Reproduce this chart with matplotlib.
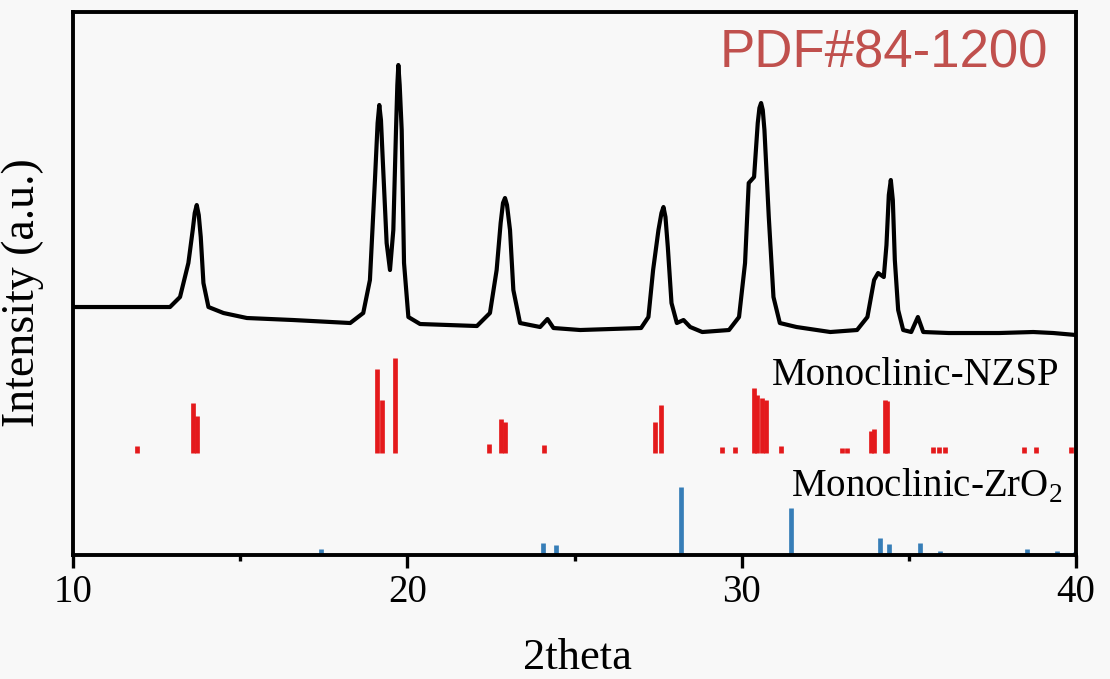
import numpy as np
import matplotlib.pyplot as plt

plt.rcParams['font.family'] = ['Liberation Serif', 'DejaVu Serif']
plt.rcParams['mathtext.fontset'] = 'custom'
plt.rcParams['mathtext.rm'] = 'Liberation Serif'

# measured XRD pattern (2theta, intensity a.u.)
two_theta = [10.0, 12.90, 13.20, 13.45, 13.58, 13.64, 13.70, 13.76, 13.82, 13.90,
             14.05, 14.50, 15.20, 16.58, 18.29, 18.68, 18.88, 19.03, 19.11, 19.16,
             19.21, 19.26, 19.38, 19.48, 19.58, 19.66, 19.70, 19.73, 19.77, 19.83,
             19.90, 20.03, 20.38, 22.08, 22.47, 22.67, 22.79, 22.86, 22.92, 22.98,
             23.07, 23.17, 23.37, 23.97, 24.19, 24.37, 25.17, 26.99, 27.21, 27.35,
             27.51, 27.60, 27.66, 27.72, 27.79, 27.90, 28.06, 28.26, 28.46, 28.82,
             29.62, 29.92, 30.10, 30.21, 30.37, 30.48, 30.53, 30.58, 30.63, 30.68,
             30.81, 30.95, 31.14, 31.64, 32.65, 33.45, 33.76, 33.96, 34.08, 34.25,
             34.33, 34.40, 34.46, 34.52, 34.58, 34.68, 34.83, 35.07, 35.27, 35.43,
             36.19, 37.70, 38.72, 39.32, 40.0]
intensity = [248, 248, 258, 292, 325, 342, 350, 340, 318, 272,
             248, 242, 237, 235, 232, 242, 275, 375, 432, 450,
             435, 398, 312, 285, 325, 425, 470, 490, 470, 425,
             292, 238, 231, 229, 242, 285, 332, 352, 357, 350,
             325, 265, 232, 228, 236, 227, 225, 227, 238, 285,
             325, 342, 348, 338, 308, 252, 232, 235, 228, 223,
             225, 238, 292, 372, 378, 432, 447, 452, 445, 425,
             338, 258, 232, 228, 223, 225, 238, 275, 282, 278,
             310, 360, 375, 355, 295, 245, 225, 223, 238, 223,
             222, 222, 223, 222, 220]

# reference lines, Monoclinic-NZSP (PDF#84-1200)
nzsp_pos = [11.92, 13.60, 13.71, 19.10, 19.24, 19.64, 22.45, 22.79, 22.92, 24.10,
            27.40, 27.60, 29.40, 29.80, 30.38, 30.46, 30.61, 30.73, 31.19, 33.00,
            33.15, 33.87, 33.96, 34.29, 34.36, 35.73, 35.90, 36.08, 38.43, 38.80,
            39.85]
nzsp_int = [7, 50, 37, 84, 53, 95, 9, 34, 31, 8,
            31, 48, 6, 6, 65, 58, 55, 53, 7, 5,
            5, 22, 24, 53, 52, 6, 6, 6, 6, 6,
            6]
nzsp_base = 102

# reference lines, Monoclinic-ZrO2
zro2_pos = [17.42, 24.07, 24.45, 28.18, 31.47, 34.14, 34.40, 35.34, 35.92, 38.53,
            39.43, 39.98]
zro2_int = [6, 12, 10, 68, 47, 17, 11, 12, 4, 6,
            4, 3]

bg = '#f8f8f8'
fig = plt.figure(figsize=(11.1, 6.79), dpi=100, facecolor=bg)
ax = fig.add_axes([0.0658, 0.1826, 0.9036, 0.7997], facecolor=bg)

ax.plot(two_theta, intensity, color='black', lw=3.0, solid_joinstyle='round')
ax.vlines(nzsp_pos, nzsp_base, np.array(nzsp_int) + nzsp_base, color='#e41a1c', lw=3.4)
ax.vlines(zro2_pos, 0, zro2_int, color='#377eb8', lw=3.4)

ax.set_xlim(10, 40)
ax.set_ylim(0, 543)
ax.set_xticks([10, 20, 30, 40])
ax.set_xticks([15, 25, 35], minor=True)
ax.set_yticks([])
ax.tick_params(axis='x', which='major', direction='out', length=9, width=2.4,
               labelsize=28, pad=5)
ax.tick_params(axis='x', which='minor', direction='out', length=4.5, width=2.4)
for s in ax.spines.values():
    s.set_linewidth(2.8)

ax.set_xlabel('2theta', fontsize=32, va='top')
ax.xaxis.set_label_coords(0.503, -0.152)
ax.set_ylabel('Intensity (a.u.)', fontsize=33)
ax.yaxis.set_label_coords(-0.029, 0.484)

ax.text(0.972, 0.897, 'PDF#84-1200', transform=ax.transAxes, ha='right', va='baseline',
        fontsize=38, color='#c0504d', family='Liberation Sans')
ax.text(0.983, 0.313, 'Monoclinic-NZSP', transform=ax.transAxes, ha='right',
        va='baseline', fontsize=28)
ax.text(0.986, 0.107, 'Monoclinic-ZrO$_2$', transform=ax.transAxes, ha='right',
        va='baseline', fontsize=28)

plt.savefig('out.png', dpi=100, facecolor=bg)
